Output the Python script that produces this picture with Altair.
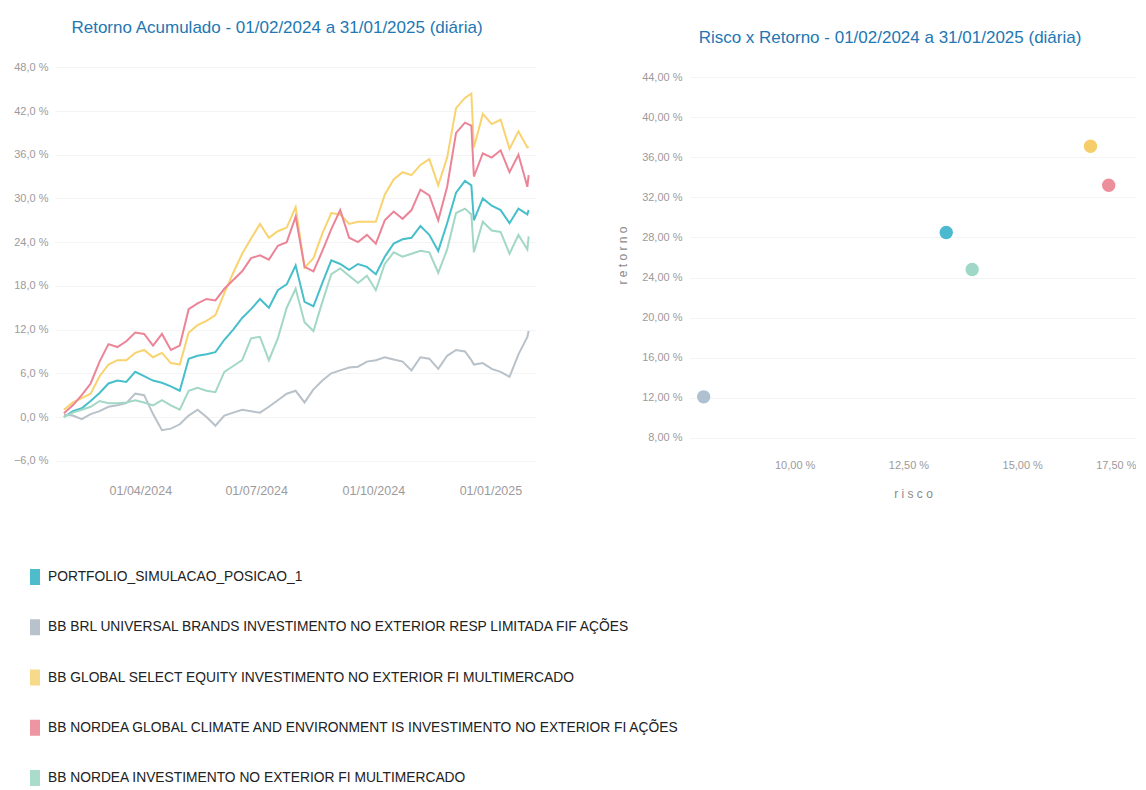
import altair as alt
import pandas as pd

series_names = [
    "PORTFOLIO_SIMULACAO_POSICAO_1",
    "BB BRL UNIVERSAL BRANDS INVESTIMENTO NO EXTERIOR RESP LIMITADA FIF AÇÕES",
    "BB GLOBAL SELECT EQUITY INVESTIMENTO NO EXTERIOR FI MULTIMERCADO",
    "BB NORDEA GLOBAL CLIMATE AND ENVIRONMENT IS INVESTIMENTO NO EXTERIOR FI AÇÕES",
    "BB NORDEA INVESTIMENTO NO EXTERIOR FI MULTIMERCADO",
]
colors = ["#47BFCB", "#B9C1C9", "#F8D36F", "#EC8497", "#A2D8C5"]
legend_colors = ["#4DBDCB", "#B8C2CD", "#F7D98A", "#EE95A2", "#A9DCCB"]
point_colors = ["#4BB9CF", "#AFC0D0", "#F5CE6A", "#EC8F9A", "#9FD8C6"]

dates = [
    "2024-02-01", "2024-02-08", "2024-02-15", "2024-02-22", "2024-02-29",
    "2024-03-07", "2024-03-14", "2024-03-21", "2024-03-28",
    "2024-04-04", "2024-04-11", "2024-04-18", "2024-04-25",
    "2024-05-02", "2024-05-09", "2024-05-16", "2024-05-23", "2024-05-30",
    "2024-06-06", "2024-06-13", "2024-06-20", "2024-06-27",
    "2024-07-04", "2024-07-11", "2024-07-18", "2024-07-25",
    "2024-08-01", "2024-08-08", "2024-08-15", "2024-08-22", "2024-08-29",
    "2024-09-05", "2024-09-12", "2024-09-19", "2024-09-26",
    "2024-10-03", "2024-10-10", "2024-10-17", "2024-10-24", "2024-10-31",
    "2024-11-07", "2024-11-14", "2024-11-21", "2024-11-28",
    "2024-12-05", "2024-12-12", "2024-12-17", "2024-12-19", "2024-12-26",
    "2025-01-02", "2025-01-09", "2025-01-16", "2025-01-23", "2025-01-30", "2025-01-31",
]

portfolio = [0.0, 0.8, 1.2, 2.2, 3.3, 4.6, 5.0, 4.8, 6.2, 5.6, 5.0, 4.7, 4.2, 3.6,
             8.0, 8.4, 8.6, 8.9, 10.6, 12.0, 13.6, 14.8, 16.2, 15.0, 17.4, 18.2,
             20.8, 15.8, 15.2, 18.4, 21.5, 21.0, 20.2, 21.0, 20.6, 19.6, 22.0, 23.8, 24.4, 24.6, 26.2, 25.0,
             22.8, 26.6, 30.8, 32.4,
             31.8, 27.0, 30.0, 29.0, 28.4, 26.6, 28.6, 27.8, 28.4]
brl = [0.3, 0.2, -0.3, 0.4, 0.8, 1.4, 1.6, 1.9, 3.2, 3.0, 0.4, -1.8, -1.6, -1.0,
       0.2, 1.0, 0.0, -1.2, 0.2, 0.6, 1.0, 0.8, 0.6, 1.4, 2.3, 3.2,
       3.6, 2.0, 3.8, 5.0, 6.0, 6.4, 6.8, 6.9, 7.6, 7.8, 8.2, 7.9, 7.6, 6.4, 8.2, 8.0,
       6.6, 8.4, 9.2, 9.0,
       7.8, 7.2, 7.4, 6.6, 6.2, 5.5, 8.6, 11.0, 11.8]
global_select = [1.0, 2.0, 2.6, 3.2, 5.6, 7.2, 7.8, 7.8, 8.8, 9.2, 8.2, 8.8, 7.4, 7.2,
                 11.6, 12.6, 13.2, 14.0, 17.0, 19.8, 22.4, 24.5, 26.5, 24.6, 25.5, 26.0,
                 28.8, 20.5, 21.8, 25.2, 28.0, 27.8, 26.5, 26.8, 26.8, 26.8, 30.5, 32.6, 33.6, 33.2, 34.6, 35.4,
                 31.8, 35.6, 42.4, 43.8,
                 44.4, 37.0, 41.6, 40.2, 40.8, 36.8, 39.2, 37.0, 37.1]
nordea_climate = [0.5, 1.6, 3.0, 4.6, 7.6, 10.0, 9.6, 10.4, 11.6, 11.4, 9.8, 11.4, 9.2, 9.8,
                  14.8, 15.6, 16.2, 16.0, 17.6, 18.8, 20.0, 21.8, 22.2, 21.6, 23.5, 24.0,
                  27.5, 20.6, 20.0, 22.8, 25.8, 28.4, 24.6, 24.0, 25.0, 23.8, 27.0, 28.2, 27.2, 28.4, 31.2, 30.4,
                  27.0, 31.6, 39.0, 40.4,
                  40.0, 33.0, 36.2, 35.6, 36.6, 33.6, 36.0, 31.6, 33.2]
nordea_multi = [0.0, 0.6, 1.0, 1.4, 2.2, 1.9, 1.9, 2.0, 2.3, 2.0, 1.6, 2.3, 1.6, 1.0,
                3.6, 4.0, 3.6, 3.4, 6.2, 7.0, 7.8, 10.8, 11.0, 7.8, 10.8, 15.0,
                17.6, 13.0, 11.8, 15.8, 19.6, 20.4, 19.4, 18.4, 19.4, 17.4, 21.0, 22.6, 22.0, 22.4, 22.8, 22.6,
                19.8, 23.0, 28.0, 28.6,
                27.8, 22.6, 26.8, 25.6, 25.4, 22.4, 25.0, 23.0, 24.8]

risk = [13.33, 8.0, 16.5, 16.9, 13.9]
ret = [28.5, 12.1, 37.1, 33.2, 24.8]

y_ticks_left = [-6, 0, 6, 12, 18, 24, 30, 36, 42, 48]
y_ticks_right = [8, 12, 16, 20, 24, 28, 32, 36, 40, 44]
x_ticks_right = [10, 12.5, 15, 17.5]

all_series = [portfolio, brl, global_select, nordea_climate, nordea_multi]
rows = []
for name, vals in zip(series_names, all_series):
    for d, v in zip(dates, vals):
        rows.append({"data": d, "serie": name, "retorno": v})
df_lines = pd.DataFrame(rows)
df_scatter = pd.DataFrame({"serie": series_names, "risco": risk, "retorno": ret})

FONT = "Liberation Sans"
LABEL_COLOR = "#9d9a9b"
TITLE_COLOR = "#2277B3"

color_scale = alt.Scale(domain=series_names, range=colors)

lines = alt.Chart(df_lines).mark_line(strokeWidth=2).encode(
    x=alt.X(
        "data:T",
        scale=alt.Scale(
            type="utc",
            domain=[alt.DateTime(year=2024, month=1, date=25, utc=True),
                    alt.DateTime(year=2025, month=2, date=5, utc=True)],
        ),
        axis=alt.Axis(
            title=None,
            labelExpr="utcFormat(datum.value, '%d/%m/%Y')",
            values=[alt.DateTime(year=2024, month=4, date=1, utc=True),
                    alt.DateTime(year=2024, month=7, date=1, utc=True),
                    alt.DateTime(year=2024, month=10, date=1, utc=True),
                    alt.DateTime(year=2025, month=1, date=1, utc=True)],
            grid=False, domain=False, ticks=False, labelPadding=16,
            labelFont=FONT, labelFontSize=12.5, labelColor=LABEL_COLOR,
        ),
    ),
    y=alt.Y(
        "retorno:Q",
        scale=alt.Scale(domain=[-7, 49], nice=False, zero=False),
        axis=alt.Axis(
            title=None, values=y_ticks_left,
            labelExpr="replace(format(datum.value, '.1f'), '.', ',') + ' %'",
            gridColor="#f4f4f4", domain=False, ticks=False, labelPadding=7,
            labelFont=FONT, labelFontSize=11, labelColor=LABEL_COLOR,
        ),
    ),
    color=alt.Color("serie:N", scale=color_scale, legend=None),
)

legend_y = alt.Y(
    "serie:N",
    scale=alt.Scale(type="point", domain=series_names, range=[517, 718], padding=0),
    axis=None,
)
legend_sym = alt.Chart(df_scatter).mark_tick(
    orient="vertical", size=16, thickness=10, opacity=1
).encode(
    x=alt.value(-20),
    y=legend_y,
    color=alt.Color("serie:N", scale=alt.Scale(domain=series_names, range=legend_colors), legend=None),
)
legend_txt = alt.Chart(df_scatter).mark_text(
    align="left", baseline="middle", font=FONT, fontSize=13.8, color="#222222"
).encode(
    x=alt.value(-7),
    y=legend_y,
    text="serie:N",
)

left = alt.layer(
    lines, legend_sym, legend_txt,
    title=alt.Title(
        "Retorno Acumulado - 01/02/2024 a 31/01/2025 (diária)",
        font=FONT, fontSize=17, fontWeight="normal", color=TITLE_COLOR,
        anchor="middle", offset=23, dx=-18,
    ),
).resolve_scale(y="independent", color="independent").properties(width=480, height=408)

right = alt.Chart(
    df_scatter,
    title=alt.Title(
        "Risco x Retorno - 01/02/2024 a 31/01/2025 (diária)",
        font=FONT, fontSize=17, fontWeight="normal", color=TITLE_COLOR,
        anchor="middle", offset=13, dx=-23,
    ),
).mark_circle(size=180, opacity=1).encode(
    x=alt.X(
        "risco:Q",
        scale=alt.Scale(domain=[7.7, 17.5], nice=False, zero=False),
        axis=alt.Axis(
            title="r i s c o", values=x_ticks_right,
            labelExpr="replace(format(datum.value, '.2f'), '.', ',') + ' %'",
            grid=False, domain=False, ticks=False, labelPadding=9, labelFlush=True,
            labelFont=FONT, labelFontSize=11, labelColor=LABEL_COLOR,
            titleFont=FONT, titleFontSize=12, titleFontWeight="normal",
            titleColor="#8a8a8a", titlePadding=18,
        ),
    ),
    y=alt.Y(
        "retorno:Q",
        scale=alt.Scale(domain=[6.8, 45.7], nice=False, zero=False),
        axis=alt.Axis(
            title="r e t o r n o", values=y_ticks_right,
            labelExpr="replace(format(datum.value, '.2f'), '.', ',') + ' %'",
            gridColor="#f4f4f4", domain=False, ticks=False, labelPadding=8,
            labelFont=FONT, labelFontSize=11, labelColor=LABEL_COLOR,
            titleFont=FONT, titleFontSize=12, titleFontWeight="normal",
            titleColor="#8a8a8a", titlePadding=12,
        ),
    ),
    color=alt.Color("serie:N", scale=alt.Scale(domain=series_names, range=point_colors), legend=None),
).properties(width=446, height=390)

chart = alt.hconcat(left, right, spacing=155, bounds="flush").resolve_scale(
    color="independent"
).properties(
    padding={"left": 5, "top": 11, "right": 0, "bottom": 0},
    background="white",
).configure_view(stroke="transparent", strokeWidth=0)

chart.save("out.html", embed_options={"renderer": "svg", "actions": False})
